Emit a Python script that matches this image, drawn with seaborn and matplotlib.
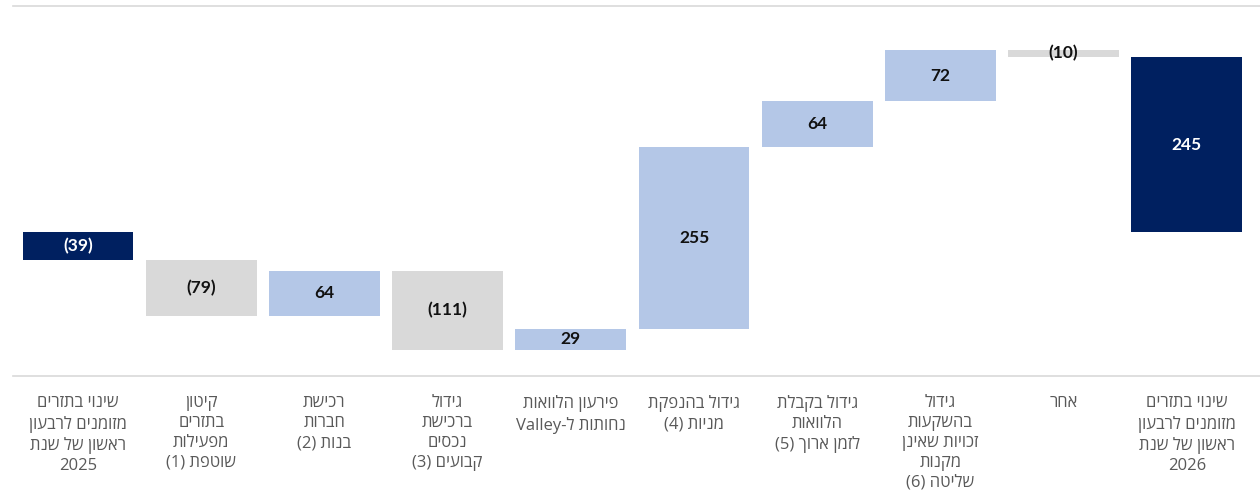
import re
import matplotlib
matplotlib.use("Agg")
import matplotlib.pyplot as plt
import seaborn as sns
import pandas as pd

# Cash-flow bridge: opening change, drivers, closing change
categories = [
    "שינוי בתזרים\nמזומנים לרבעון\nראשון של שנת\n2025",
    "קיטון\nבתזרים\nמפעילות\nשוטפת (1)",
    "רכישת\nחברות\nבנות (2)",
    "גידול\nברכישת\nנכסים\nקבועים (3)",
    "פירעון הלוואות\nנחותות ל-Valley",
    "גידול בהנפקת\nמניות (4)",
    "גידול בקבלת\nהלוואות\nלזמן ארוך (5)",
    "גידול\nבהשקעות\nזכויות שאינן\nמקנות\nשליטה (6)",
    "אחר",
    "שינוי בתזרים\nמזומנים לרבעון\nראשון של שנת\n2026",
]
values = [-39, -79, 64, -111, 29, 255, 64, 72, -10, 245]
kinds = ["total", "step", "step", "step", "step", "step", "step", "step", "step", "total"]

NAVY = "#002060"
BLUE = "#B4C7E7"
GRAY = "#D9D9D9"

# Base and height of each floating bar
bottoms, heights, colors = [], [], []
running = 0
for v, k in zip(values, kinds):
    if k == "total":
        bottoms.append(0)
        heights.append(v)
        colors.append(NAVY)
        running = v
    else:
        bottoms.append(running)
        heights.append(v)
        colors.append(BLUE if v > 0 else GRAY)
        running += v


def visual(line):
    """Lay out a right-to-left line for left-to-right rendering."""
    mirror = {"(": ")", ")": "("}
    rev = "".join(mirror.get(c, c) for c in line[::-1])
    return re.sub(r"[A-Za-z0-9]+", lambda m: m.group(0)[::-1], rev)


tick_labels = ["\n".join(visual(l) for l in c.split("\n")) for c in categories]
keys = [f"c{i}" for i in range(len(values))]
df = pd.DataFrame({"key": keys, "value": values})

sns.set_theme(style="white")
plt.rcParams["font.family"] = ["Open Sans", "DejaVu Sans"]

fig = plt.figure(figsize=(12.6, 5.0), dpi=100)
ax = fig.add_axes([13 / 1260, 1 - 376 / 500, (1260 - 13) / 1260, (376 - 6) / 500])

sns.barplot(data=df, x="key", y="value", order=keys, width=0.9, ax=ax,
            color=BLUE, linewidth=0, saturation=1)

for patch, b, h, c in zip(ax.patches, bottoms, heights, colors):
    patch.set_y(b)
    patch.set_height(h)
    patch.set_facecolor(c)

for i, (b, h, v, c) in enumerate(zip(bottoms, heights, values, colors)):
    txt = f"({abs(v)})" if v < 0 else f"{v}"
    ax.text(i, b + h / 2, txt, ha="center", va="center", fontsize=12.5,
            fontweight="bold", family=["Lato", "DejaVu Sans"],
            color="white" if c == NAVY else "#111111")

ax.set_xlim(-0.528, 9.594)
ax.set_ylim(-201.7, 316.5)
ax.set_yticks([])
ax.set_xlabel("")
ax.set_ylabel("")
ax.set_xticks(range(len(values)))
ax.set_xticklabels(tick_labels, fontsize=12, color="#595959", linespacing=1.32,
                   va="top")
ax.tick_params(axis="x", length=0, pad=14)

for side in ["left", "right"]:
    ax.spines[side].set_visible(False)
for side in ["top", "bottom"]:
    ax.spines[side].set_color("#D9D9D9")
    ax.spines[side].set_linewidth(1.2)

fig.savefig("out.png", dpi=100, facecolor="white")
